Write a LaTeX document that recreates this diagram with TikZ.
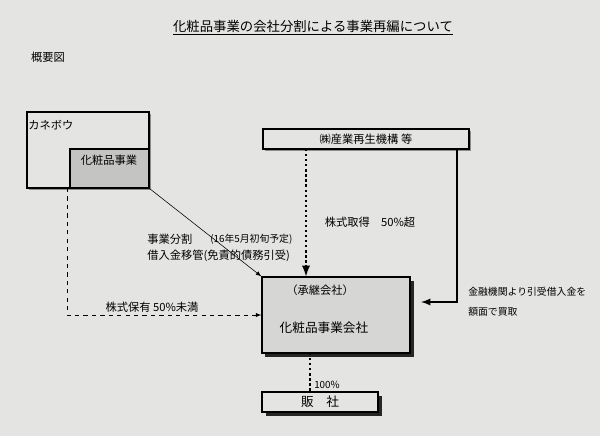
\documentclass[tikz,border=0pt]{standalone}
\usepackage{fontspec}
\setmainfont{Noto Sans CJK JP}
\usetikzlibrary{arrows,shapes,positioning,shadows,calc}
\definecolor{paper}{RGB}{228,228,226}
\definecolor{boxgray}{RGB}{214,214,212}
\definecolor{divgray}{RGB}{196,196,194}
\tikzset{
  basic/.style   = {draw, thick, rectangle, inner sep=0pt},
  company/.style = {basic, fill=boxgray,
                    drop shadow={shadow xshift=2.5pt, shadow yshift=-2.5pt, fill=black!85, opacity=1}},
  plain/.style   = {basic, fill=paper,
                    drop shadow={shadow xshift=1.5pt, shadow yshift=-1.5pt, fill=black!45, opacity=1}},
  txt/.style     = {inner sep=0pt, font=\fontsize{8}{10}\selectfont},
  small/.style   = {inner sep=0pt, font=\fontsize{7}{9}\selectfont}
}

\begin{document}
\begin{tikzpicture}[x=0.025cm,y=-0.025cm,>=latex]
\fill[paper] (0,0) rectangle (600,436);
\useasboundingbox (0,0) rectangle (600,436);

% heading
\node[inner sep=0pt, font=\fontsize{9.5}{11}\selectfont] (title) at (313,28)
  {\underline{化粧品事業の会社分割による事業再編について}};
\node[txt] (gaiyo) at (48,57) {概要図};

% boxes
\node[plain, minimum width=3.05cm, minimum height=1.9cm] (kanebo) at (88,150) {};
\node[basic, fill=divgray, minimum width=1.975cm, minimum height=0.975cm] (div) at (109.5,168.5) {};
\node[txt, anchor=west] (kanebolbl) at (28,125) {カネボウ};
\node[txt] (divlbl) at (109,160) {化粧品事業};

\node[plain, minimum width=5.15cm, minimum height=0.5cm, font=\fontsize{8}{10}\selectfont] (irc) at (366,139)
  {㈱産業再生機構\ 等};
\node[company, minimum width=3.7cm, minimum height=1.9cm] (succ) at (336,315) {};
\node[txt] (succlbl1) at (320,290) {（承継会社）};
\node[inner sep=0pt, font=\fontsize{9}{11}\selectfont] (succlbl2) at (324,328) {化粧品事業会社};
\node[company, fill=paper, minimum width=2.9cm, minimum height=0.5cm, font=\fontsize{9}{11}\selectfont] (hansha) at (320,402)
  {販\quad 社};

% free ends
\coordinate (irctop) at (306,149);
\coordinate (ircright) at (457,149);
\coordinate (buyend) at (421,302);
\coordinate (holdtop) at (67,188);
\coordinate (subtop) at (310,353);

% connectors
\draw[->, line width=1.6pt, dotted] (irctop) -- (irctop |- succ.north);
\draw[->, line width=1.3pt] (ircright) -- (ircright |- buyend) -- (buyend);
\draw[->, thin] (div.south east) -- (succ.north west);
\draw[->, dashed] (holdtop) -- (holdtop |- succ.west) -- (succ.west);
\draw[line width=1.6pt, dotted] (subtop) -- (subtop |- hansha.north);

% labels
\node[txt] (takeover) at (370,222) {株式取得\quad 50\%超};
\node[txt, anchor=west] (split) at (147,239) {事業分割};
\node[small, anchor=west] (splitdate) at (210,239) {(16年5月初旬予定)};
\node[txt, anchor=west] (debt) at (147,256) {借入金移管(免責的債務引受)};
\node[txt] (hold) at (152,307) {株式保有 50\%未満};
\node[small, anchor=west] (buy1) at (468,292) {金融機関より引受借入金を};
\node[small, anchor=west] (buy2) at (468,312) {額面で買取};
\node[small, anchor=west] (pct) at (314,385) {100\%};
\end{tikzpicture}
\end{document}
